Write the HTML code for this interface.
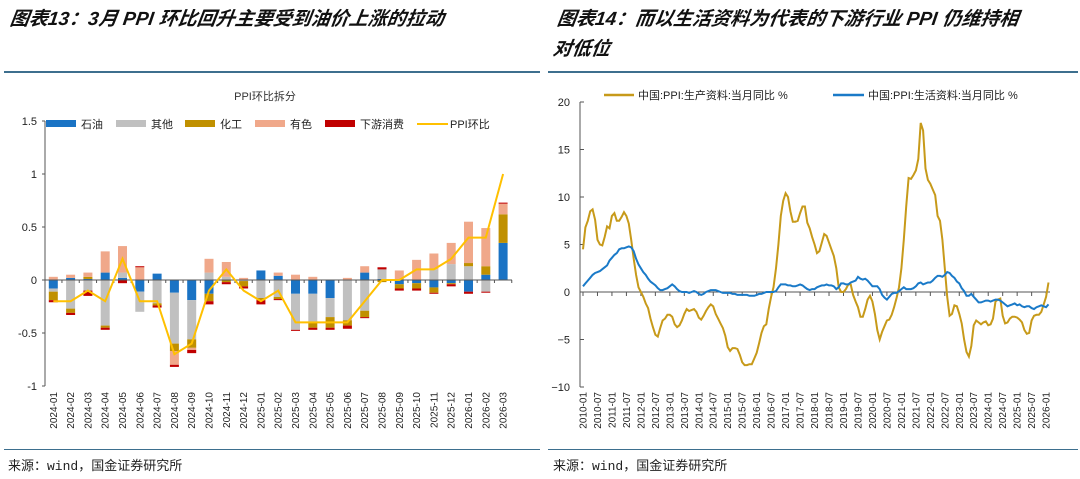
<!DOCTYPE html>
<html><head><meta charset="utf-8">
<style>
html,body{margin:0;padding:0;background:#fff;}
body{width:1080px;height:479px;overflow:hidden;position:relative;font-family:"Liberation Sans","Noto Sans CJK SC",sans-serif;}
.title{position:absolute;font-family:"Liberation Sans","Noto Sans CJK SC",sans-serif;font-weight:bold;font-style:italic;font-size:19px;color:#111;line-height:30px;transform:skewX(-8deg);transform-origin:left;}
.rule{position:absolute;height:2px;background:#3d6f8e;}
.src{position:absolute;font-family:"Liberation Mono","Noto Sans CJK SC",monospace;font-size:13px;color:#222;}
svg text{font-family:"Liberation Sans","Noto Sans CJK SC",sans-serif;}
</style></head><body>
<div class="title" style="left:10px;top:5px;">图表13：3月 PPI 环比回升主要受到油价上涨的拉动</div>
<div class="title" style="left:555px;top:5px;width:520px;">图表14：而以生活资料为代表的下游行业 PPI 仍维持相<br>对低位</div>
<div class="rule" style="left:4px;top:71px;width:536px;"></div>
<div class="rule" style="left:548px;top:71px;width:530px;"></div>
<div class="rule" style="left:4px;top:449px;width:536px;height:1px;"></div>
<div class="rule" style="left:548px;top:449px;width:530px;height:1px;"></div>
<div class="src" style="left:8px;top:455px;">来源：wind，国金证券研究所</div>
<div class="src" style="left:553px;top:455px;">来源：wind，国金证券研究所</div>
<svg id="chart" width="1080" height="479" style="position:absolute;left:0;top:0" xmlns="http://www.w3.org/2000/svg"></svg>
<script>
// ---- Left chart data ----
const catsL = ["2024-01","2024-02","2024-03","2024-04","2024-05","2024-06","2024-07","2024-08","2024-09","2024-10","2024-11","2024-12","2025-01","2025-02","2025-03","2025-04","2025-05","2025-06","2025-07","2025-08","2025-09","2025-10","2025-11","2025-12","2026-01","2026-02","2026-03"];
const oil   = [-0.08,0.02,0.01,0.07,0.02,-0.11,0.06,-0.12,-0.19,-0.13,0,0,0.09,0.04,-0.13,-0.13,-0.17,0,0.07,0.01,-0.04,-0.03,-0.07,-0.03,-0.11,0.05,0.35];
const other = [-0.03,-0.27,-0.1,-0.43,0.05,-0.19,-0.22,-0.48,-0.37,0.07,0.03,-0.01,-0.17,-0.16,-0.34,-0.27,-0.18,-0.38,-0.29,0.09,0,0,0.1,0.15,0.13,-0.11,0];
const chem  = [-0.08,-0.04,0.02,-0.02,0,0,-0.02,-0.07,-0.08,-0.07,-0.02,-0.05,-0.02,-0.02,0,-0.05,-0.1,-0.05,-0.06,-0.02,-0.04,-0.05,-0.05,-0.01,0.03,0.08,0.27];
const nonf  = [0.03,0.03,0.04,0.2,0.25,0.12,0,-0.13,-0.02,0.13,0.14,0.02,0,0.03,0.05,0.03,0,0.02,0.06,0,0.09,0.19,0.15,0.2,0.39,0.36,0.1];
const down  = [-0.02,-0.02,-0.05,-0.02,-0.03,0.01,-0.02,-0.02,-0.03,-0.03,-0.02,-0.02,-0.04,-0.01,-0.01,-0.02,-0.02,-0.03,-0.01,0.02,-0.02,-0.02,-0.01,-0.02,-0.02,-0.01,0.01];
const ppiMoM= [-0.2,-0.2,-0.1,-0.2,0.2,-0.2,-0.2,-0.7,-0.6,-0.1,0.1,-0.1,-0.2,-0.1,-0.4,-0.4,-0.4,-0.4,-0.2,0,0,0.1,0.1,0.2,0.4,0.4,1.0];
const ticksL = [1.5,1,0.5,0,-0.5,-1];
const tickLabelsL = ["1.5","1","0.5","0","-0.5","-1"];
const seriesNamesL = ["石油","其他","化工","有色","下游消费"];
const seriesColorsL = ["#1a73c4","#c0c0c0","#c09000","#f0a88a","#c00000"];

// ---- Right chart data (monthly from 2010-01) ----
const prodYoY = [4.5,6.8,7.5,8.5,8.7,7.6,5.5,5.0,4.9,5.8,6.9,6.7,
8.0,8.3,7.5,7.5,7.9,8.4,8.0,7.2,5.5,3.5,1.8,0.5,
0,-0.5,-1.2,-1.7,-2.8,-3.7,-4.5,-4.7,-3.8,-3.0,-2.8,-2.4,
-2.4,-2.6,-3.4,-3.7,-3.5,-3.0,-2.3,-1.8,-2.0,-1.9,-1.8,-2.1,
-2.7,-2.9,-2.5,-2.0,-1.6,-1.3,-1.5,-2.3,-2.8,-3.3,-3.8,-4.6,
-5.8,-6.2,-5.9,-5.9,-6.0,-6.6,-7.4,-7.7,-7.7,-7.6,-7.6,-7.0,
-6.4,-5.4,-4.3,-3.6,-3.4,-1.8,-0.5,0.5,2.5,5.0,8.0,9.6,
10.4,10.0,8.5,7.4,7.4,7.5,8.3,9.0,9.0,7.3,6.7,5.8,
5.0,4.1,4.3,5.2,6.1,5.9,5.2,4.5,3.8,2.5,0.5,0.0,
0.0,0.3,0.8,0.8,-0.3,-1.0,-1.6,-2.6,-2.6,-1.8,-0.8,-0.4,
-1.0,-2.3,-4.0,-5.0,-4.2,-3.6,-3.0,-2.9,-2.4,-1.6,-0.6,0.5,
2.5,5.5,9.0,12.0,11.9,12.3,12.8,14.0,17.8,17.0,13.0,11.8,
11.4,10.8,10.2,8.0,7.5,5.5,2.5,-0.5,-2.5,-2.3,-1.4,-1.5,
-2.3,-3.3,-5.0,-6.3,-6.8,-5.7,-3.5,-3.0,-3.2,-3.4,-3.2,-3.1,
-3.5,-3.4,-2.8,-1.0,-0.8,-0.7,-2.5,-3.3,-3.2,-2.8,-2.6,-2.6,
-2.7,-2.9,-3.2,-4.0,-4.4,-4.3,-3.0,-2.5,-2.4,-2.4,-2.1,-1.3,
-0.5,1.0];
const consYoY = [0.6,0.9,1.2,1.5,1.8,2.0,2.1,2.2,2.4,2.6,2.8,3.3,
3.6,3.9,4.1,4.5,4.6,4.6,4.7,4.8,4.7,4.3,3.5,2.9,
2.5,2.1,1.8,1.4,1.1,0.9,0.7,0.4,0.2,0.2,0.3,0.4,
0.6,0.8,0.6,0.3,0.1,0.0,0.0,0.0,-0.1,0.0,0.1,0.0,
-0.2,-0.3,-0.2,0.0,0.1,0.2,0.2,0.2,0.1,0.0,-0.1,-0.1,
-0.1,-0.1,-0.2,-0.2,-0.3,-0.3,-0.3,-0.3,-0.3,-0.4,-0.4,-0.4,
-0.3,-0.2,-0.2,-0.1,0.0,0.0,0.0,0.0,0.1,0.5,0.8,0.8,
0.8,0.7,0.7,0.6,0.6,0.7,0.8,0.7,0.5,0.3,0.2,0.3,
0.3,0.5,0.6,0.7,0.7,0.8,0.7,0.7,0.6,0.3,0.5,0.9,
0.9,0.8,0.8,1.0,1.1,1.2,1.6,1.4,1.3,1.4,1.2,0.9,
0.6,0.6,0.6,0.3,-0.3,-0.6,-0.8,-0.5,-0.2,-0.1,-0.1,0.1,
0.3,0.5,0.3,0.3,0.3,0.4,0.6,0.9,1.0,0.8,0.9,1.0,
1.0,1.2,1.5,1.7,1.7,1.6,1.8,2.1,2.0,1.7,1.5,1.1,
0.9,0.4,0.1,-0.4,-0.4,-0.2,-0.5,-0.8,-1.1,-1.1,-1.0,-0.9,
-0.9,-1.0,-0.9,-0.8,-0.8,-0.9,-1.1,-1.3,-1.5,-1.4,-1.3,-1.2,
-1.4,-1.3,-1.5,-1.6,-1.5,-1.5,-1.7,-1.8,-1.6,-1.5,-1.4,-1.5,
-1.6,-1.3];
const ticksR = [20,15,10,5,0,-5,-10];
const tickLabelsR = ["20","15","10","5","0","\u22125","\u221210"];
const startYear = 2010;

const NS="http://www.w3.org/2000/svg";
const svg=document.getElementById('chart');
function mk(tag,attrs,parent){const e=document.createElementNS(NS,tag);for(const k in attrs)e.setAttribute(k,attrs[k]);(parent||svg).appendChild(e);return e;}

// ===== Left chart =====
const gL=mk('g',{});


const yL=v=>280-v*106;
const xL=i=>53.3+i*17.3;
const t0=mk('text',{x:265,y:100,'font-size':11,'text-anchor':'middle',fill:'#333'},gL);t0.textContent='PPI环比拆分';


mk('line',{x1:45,y1:yL(1.5),x2:45,y2:yL(-1),stroke:'#555','stroke-width':1},gL);
ticksL.forEach((v,k)=>{
  mk('line',{x1:42,y1:yL(v),x2:45,y2:yL(v),stroke:'#555'},gL);
  const t=mk('text',{x:37,y:yL(v)+4,'font-size':11,'text-anchor':'end',fill:'#222'},gL);t.textContent=tickLabelsL[k];
  
  
});
const seriesL=[oil,other,chem,nonf,down];
catsL.forEach((c,i)=>{
  let pos=0,neg=0;
  seriesL.forEach((s,j)=>{
    const v=s[i]; if(!v) return;
    let y0,y1;
    if(v>0){y0=pos;y1=pos+v;pos=y1;}else{y0=neg;y1=neg+v;neg=y1;}
    const r=mk('rect',{x:xL(i)-4.5,y:Math.min(yL(y0),yL(y1)),width:9,height:Math.abs(yL(y1)-yL(y0)),fill:seriesColorsL[j]},gL);
    
    
  });
  const t=mk('text',{x:0,y:0,'font-size':10,'text-anchor':'end',fill:'#222',transform:`translate(${xL(i)+3.5},392) rotate(-90)`},gL);t.textContent=c;
  
  
});
mk('line',{x1:45,y1:yL(0),x2:512,y2:yL(0),stroke:'#555'},gL);
catsL.forEach((c,i)=>{mk('line',{x1:xL(i)+8.65,y1:yL(0),x2:xL(i)+8.65,y2:yL(0)+3,stroke:'#555'},gL);});
const ppiPath=ppiMoM.map((v,i)=>(i?'L':'M')+xL(i)+','+yL(v)).join('');
const pl=mk('path',{d:ppiPath,fill:'none',stroke:'#ffc000','stroke-width':2},gL);


// legend
const legX=[46,116,185,255,325,405];
seriesNamesL.forEach((n,j)=>{
  const g=mk('g',{},gL);
  
  
  mk('rect',{x:legX[j],y:120,width:30,height:7,fill:seriesColorsL[j]},g);
  const t=mk('text',{x:legX[j]+35,y:128,'font-size':11,fill:'#222'},g);t.textContent=n;
});
const lg=mk('g',{},gL);


mk('line',{x1:417,y1:124,x2:448,y2:124,stroke:'#ffc000','stroke-width':2},lg);
const lt=mk('text',{x:450,y:128,'font-size':11,fill:'#222'},lg);lt.textContent='PPI环比';

// ===== Right chart =====
const gR=mk('g',{});


const yR=v=>292-v*9.5;
const xR=i=>583+i*2.412;
mk('line',{x1:580,y1:yR(20),x2:580,y2:yR(-10),stroke:'#555'},gR);
ticksR.forEach((v,k)=>{
  mk('line',{x1:580,y1:yR(v),x2:584,y2:yR(v),stroke:'#555'},gR);
  const t=mk('text',{x:570,y:yR(v)+4,'font-size':11,'text-anchor':'end',fill:'#222'},gR);t.textContent=tickLabelsR[k];
  
  
});
mk('line',{x1:580,y1:yR(0),x2:1050,y2:yR(0),stroke:'#555'},gR);
for(let i=0;i<prodYoY.length;i+=6){
  const yr=startYear+Math.floor(i/12), m=(i%12)+1;
  const lab=yr+'-'+(m<10?'0':'')+m;
  mk('line',{x1:xR(i),y1:yR(0),x2:xR(i),y2:yR(0)+4,stroke:'#555'},gR);
  const t=mk('text',{x:0,y:0,'font-size':10,'text-anchor':'end',fill:'#222',transform:`translate(${xR(i)+3.5},392) rotate(-90)`},gR);t.textContent=lab;
  
  
}
const p1=mk('path',{d:prodYoY.map((v,i)=>(i?'L':'M')+xR(i).toFixed(1)+','+yR(v).toFixed(1)).join(''),fill:'none',stroke:'#c79a1a','stroke-width':2},gR);


const p2=mk('path',{d:consYoY.map((v,i)=>(i?'L':'M')+xR(i).toFixed(1)+','+yR(v).toFixed(1)).join(''),fill:'none',stroke:'#1a7ac8','stroke-width':2},gR);


const l1=mk('g',{},gR);


mk('line',{x1:604,y1:95,x2:634,y2:95,stroke:'#c79a1a','stroke-width':2.5},l1);
const lt1=mk('text',{x:638,y:99,'font-size':11,fill:'#222'},l1);lt1.textContent='中国:PPI:生产资料:当月同比 %';
const l2=mk('g',{},gR);


mk('line',{x1:833,y1:95,x2:864,y2:95,stroke:'#1a7ac8','stroke-width':2.5},l2);
const lt2=mk('text',{x:868,y:99,'font-size':11,fill:'#222'},l2);lt2.textContent='中国:PPI:生活资料:当月同比 %';
</script>
</body></html>
